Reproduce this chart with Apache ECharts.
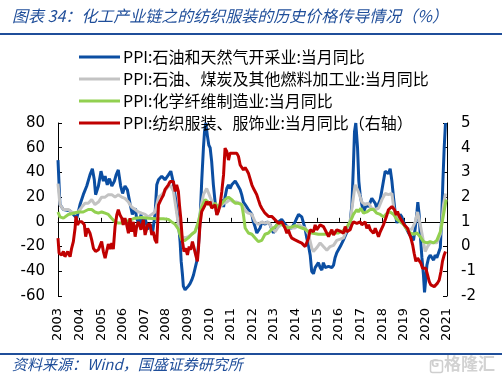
<!DOCTYPE html>
<html>
<head>
<meta charset="utf-8">
<script src="https://cdn.jsdelivr.net/npm/echarts@6/dist/echarts.min.js"></script>
<style>
html,body{margin:0;padding:0;background:#fff;}
#chart{width:502px;height:383px;}
</style>
</head>
<body>
<div id="chart"></div>
<script>
// Series names (legend)
const seriesNames = [
  'PPI:石油和天然气开采业:当月同比',
  'PPI:石油、煤炭及其他燃料加工业:当月同比',
  'PPI:化学纤维制造业:当月同比',
  'PPI:纺织服装、服饰业:当月同比（右轴）'
];
// x-axis year ticks
const yearTicks = [2003,2004,2005,2006,2007,2008,2009,2010,2011,2012,2013,2014,2015,2016,2017,2018,2019,2020,2021];
// left axis ticks: -60..80 step 20 ; right axis ticks: -2..5 step 1
const leftTicks = [-60,-40,-20,0,20,40,60,80];
const rightTicks = [-2,-1,0,1,2,3,4,5];

// [decimal year, value]
const oilGasExtraction = [
[2003.00,50],[2003.09,14],[2003.25,10],[2003.55,9],[2003.71,6],[2003.87,3],[2004.02,14],[2004.17,22],[2004.33,29],[2004.48,38],[2004.59,43],[2004.68,34],[2004.74,22],[2004.87,29],[2004.99,41],[2005.10,33],[2005.18,37],[2005.28,30],[2005.38,35],[2005.49,29],[2005.61,33],[2005.69,38],[2005.79,42],[2005.90,29],[2005.99,23],[2006.10,29],[2006.21,26],[2006.33,15],[2006.44,6],[2006.57,11],[2006.64,3],[2006.75,-2],[2006.84,6],[2006.92,-5],[2007.03,3],[2007.15,-6],[2007.26,-2],[2007.38,-8],[2007.49,6],[2007.57,30],[2007.65,34],[2007.72,35],[2007.80,37],[2007.88,37],[2007.95,34],[2008.03,35],[2008.11,38],[2008.22,41],[2008.31,34],[2008.37,27],[2008.46,16],[2008.57,0],[2008.65,-16],[2008.70,-32],[2008.76,-43],[2008.80,-52],[2008.88,-55],[2008.96,-54],[2009.03,-52],[2009.11,-50],[2009.19,-47],[2009.27,-43],[2009.34,-44],[2009.42,-32],[2009.50,-19],[2009.57,0],[2009.65,33],[2009.73,60],[2009.78,73],[2009.84,80],[2009.91,70],[2009.98,62],[2010.04,60],[2010.11,49],[2010.19,30],[2010.27,16],[2010.35,6],[2010.42,7],[2010.50,14],[2010.58,18],[2010.66,12],[2010.73,20],[2010.81,27],[2010.89,30],[2010.96,27],[2011.04,30],[2011.12,29],[2011.20,33],[2011.27,31],[2011.35,30],[2011.43,26],[2011.50,22],[2011.58,16],[2011.66,14],[2011.81,10],[2011.97,6],[2012.04,0],[2012.12,-4],[2012.20,-9],[2012.27,-10],[2012.35,-5],[2012.43,0],[2012.58,-2],[2012.66,0],[2012.81,-2],[2012.89,-6],[2012.97,-9],[2013.05,-5],[2013.20,0],[2013.35,2],[2013.51,-2],[2013.66,-5],[2013.74,-6],[2013.82,-5],[2013.97,0],[2014.05,3],[2014.13,6],[2014.20,7],[2014.28,4],[2014.36,-1],[2014.44,-6],[2014.51,-13],[2014.59,-19],[2014.67,-27],[2014.74,-40],[2014.82,-42],[2014.90,-37],[2014.97,-36],[2015.05,-33],[2015.13,-37],[2015.21,-39],[2015.28,-33],[2015.36,-37],[2015.44,-38],[2015.52,-36],[2015.59,-36],[2015.67,-37],[2015.75,-35],[2015.82,-29],[2015.90,-25],[2016.06,-20],[2016.20,-15],[2016.35,-9],[2016.45,-5],[2016.52,0],[2016.60,14],[2016.67,46],[2016.72,73],[2016.78,80],[2016.86,60],[2016.92,33],[2016.98,22],[2017.06,14],[2017.14,8],[2017.21,11],[2017.29,15],[2017.37,12],[2017.45,16],[2017.52,19],[2017.60,20],[2017.68,15],[2017.75,11],[2017.83,12],[2017.91,18],[2017.99,26],[2018.06,33],[2018.14,41],[2018.22,42],[2018.29,39],[2018.37,43],[2018.45,33],[2018.53,19],[2018.60,8],[2018.68,-1],[2018.76,3],[2018.83,6],[2018.91,4],[2018.99,0],[2019.07,-4],[2019.14,-6],[2019.22,-9],[2019.30,-10],[2019.37,-13],[2019.45,-15],[2019.53,-5],[2019.61,8],[2019.65,16],[2019.71,6],[2019.76,-10],[2019.84,-29],[2019.91,-43],[2019.96,-57],[2020.02,-46],[2020.07,-35],[2020.15,-29],[2020.22,-27],[2020.30,-29],[2020.38,-31],[2020.45,-27],[2020.53,-29],[2020.61,-28],[2020.69,-21],[2020.76,6],[2020.81,33],[2020.87,60],[2020.93,80]
];
const petroleumFuel = [
[2003.00,31],[2003.03,25],[2003.09,14],[2003.25,10],[2003.48,10],[2003.63,8],[2003.79,7],[2003.94,8],[2004.10,12],[2004.25,15],[2004.40,15],[2004.56,18],[2004.71,14],[2004.87,16],[2005.02,20],[2005.18,20],[2005.33,22],[2005.49,22],[2005.64,20],[2005.79,22],[2005.95,20],[2006.10,19],[2006.26,16],[2006.41,12],[2006.57,10],[2006.72,8],[2006.87,7],[2007.03,6],[2007.18,4],[2007.26,3],[2007.49,8],[2007.65,20],[2007.80,22],[2007.95,25],[2008.11,29],[2008.22,29],[2008.34,25],[2008.46,11],[2008.57,-2],[2008.65,-10],[2008.73,-12],[2008.88,-13],[2009.03,-12],[2009.19,-10],[2009.34,-8],[2009.50,0],[2009.57,6],[2009.65,15],[2009.73,22],[2009.88,27],[2009.96,26],[2010.04,20],[2010.19,14],[2010.35,10],[2010.50,12],[2010.66,15],[2010.81,16],[2010.96,18],[2011.12,16],[2011.27,16],[2011.43,15],[2011.58,12],[2011.66,9],[2011.81,7],[2011.97,6],[2012.12,0],[2012.27,-2],[2012.43,0],[2012.58,-1],[2012.74,0],[2012.89,-5],[2013.05,-8],[2013.20,-4],[2013.35,-2],[2013.51,-4],[2013.66,-4],[2013.82,-5],[2013.97,-5],[2014.13,-2],[2014.28,-4],[2014.44,-5],[2014.59,-10],[2014.74,-21],[2014.82,-24],[2014.97,-21],[2015.13,-17],[2015.28,-20],[2015.44,-23],[2015.59,-20],[2015.75,-19],[2015.90,-15],[2016.06,-14],[2016.21,-13],[2016.37,-6],[2016.52,0],[2016.64,16],[2016.75,30],[2016.86,26],[2016.95,22],[2017.06,16],[2017.21,14],[2017.37,15],[2017.52,11],[2017.68,10],[2017.83,11],[2017.99,18],[2018.14,23],[2018.29,22],[2018.45,23],[2018.53,12],[2018.60,6],[2018.76,3],[2018.91,0],[2019.07,-4],[2019.22,-6],[2019.37,-6],[2019.53,0],[2019.64,8],[2019.76,-2],[2019.88,-13],[2019.99,-24],[2020.10,-20],[2020.22,-17],[2020.38,-17],[2020.53,-17],[2020.69,-10],[2020.76,0],[2020.84,14],[2020.93,23]
];
const chemicalFiber = [
[2003.00,8],[2003.09,4],[2003.25,3],[2003.48,6],[2003.71,7],[2003.94,8],[2004.17,8],[2004.40,10],[2004.56,10],[2004.71,8],[2004.87,7],[2005.02,8],[2005.18,7],[2005.33,6],[2005.48,3],[2005.64,0],[2005.79,-1],[2005.95,-1],[2006.10,0],[2006.26,1],[2006.56,3],[2006.87,3.5],[2007.18,3],[2007.57,2.5],[2007.88,2.5],[2008.11,2],[2008.26,0],[2008.42,-2],[2008.57,-6],[2008.73,-15],[2008.88,-15],[2009.03,-13],[2009.19,-10],[2009.34,-8],[2009.50,0],[2009.65,12],[2009.81,18],[2009.96,16],[2010.11,12],[2010.27,15],[2010.42,12],[2010.58,15],[2010.73,18],[2010.89,20],[2011.04,18],[2011.20,15],[2011.35,15],[2011.50,14],[2011.58,6],[2011.66,-5],[2011.74,-6],[2011.81,-9],[2011.97,-10],[2012.12,-13],[2012.27,-16],[2012.43,-15],[2012.58,-10],[2012.74,-9],[2012.89,-6],[2013.05,-4],[2013.20,-1],[2013.35,-2],[2013.51,-4],[2013.66,-5],[2013.82,-4],[2013.97,-3],[2014.13,-4],[2014.28,-5],[2014.44,-6],[2014.59,-8],[2014.74,-9],[2015.05,-10],[2015.36,-10],[2015.67,-9],[2015.98,-9],[2016.20,-7],[2016.37,-4],[2016.52,0],[2016.67,6],[2016.83,10],[2016.90,8],[2017.01,11],[2017.14,7],[2017.29,8],[2017.45,10],[2017.60,10],[2017.75,7],[2017.91,6],[2018.06,4],[2018.22,7],[2018.37,8],[2018.53,6],[2018.68,2],[2018.83,0],[2018.99,-2],[2019.14,-6],[2019.30,-9],[2019.45,-10],[2019.61,-9],[2019.76,-12],[2019.91,-16],[2020.07,-17],[2020.22,-16],[2020.38,-17],[2020.53,-15],[2020.69,-8],[2020.76,-2],[2020.84,6],[2020.96,18]
];
const textileApparel = [
[2003.00,0.34],[2003.05,-0.27],[2003.17,-0.34],[2003.25,-0.2],[2003.32,-0.41],[2003.45,-0.2],[2003.56,-0.41],[2003.63,-0.07],[2003.71,0.2],[2003.79,0.74],[2003.83,1.22],[2003.91,0.88],[2003.97,1.0],[2004.10,1.0],[2004.22,0.88],[2004.28,0.4],[2004.37,0.74],[2004.48,0.54],[2004.56,0.27],[2004.64,-0.07],[2004.74,-0.2],[2004.87,-0.13],[2004.94,-0.2],[2005.02,0.2],[2005.10,-0.2],[2005.18,-0.47],[2005.25,-0.2],[2005.33,0.1],[2005.41,-0.1],[2005.49,0.14],[2005.56,-0.1],[2005.64,0.81],[2005.72,1.28],[2005.79,1.49],[2005.87,1.28],[2005.95,1.15],[2006.02,0.88],[2006.10,1.15],[2006.18,0.88],[2006.26,0.54],[2006.33,1.15],[2006.41,0.6],[2006.49,1.0],[2006.57,0.4],[2006.64,0.81],[2006.72,1.0],[2006.84,0.68],[2006.95,1.08],[2007.03,0.47],[2007.15,0.88],[2007.26,0.9],[2007.34,0.47],[2007.41,0.6],[2007.49,0.27],[2007.57,0.14],[2007.61,0.9],[2007.65,1.69],[2007.72,1.82],[2007.80,1.96],[2007.88,2.09],[2007.95,2.3],[2008.03,2.36],[2008.11,2.5],[2008.19,2.63],[2008.26,2.7],[2008.34,2.63],[2008.42,2.23],[2008.49,2.5],[2008.57,2.23],[2008.62,1.69],[2008.68,1.15],[2008.76,0.2],[2008.83,-0.2],[2008.91,-0.07],[2008.99,-0.34],[2009.07,0.0],[2009.14,-0.13],[2009.22,0.2],[2009.30,-0.07],[2009.37,-0.34],[2009.45,-0.6],[2009.50,-0.07],[2009.57,0.88],[2009.65,1.42],[2009.73,1.55],[2009.81,1.69],[2009.88,1.82],[2009.96,1.69],[2010.04,1.82],[2010.11,1.55],[2010.19,1.62],[2010.27,1.69],[2010.35,1.28],[2010.42,1.42],[2010.50,1.69],[2010.58,2.23],[2010.66,2.9],[2010.73,3.98],[2010.81,3.85],[2010.89,3.5],[2010.96,3.78],[2011.04,3.7],[2011.12,3.78],[2011.20,3.7],[2011.27,3.78],[2011.35,3.65],[2011.43,3.3],[2011.50,3.37],[2011.58,3.1],[2011.66,3.2],[2011.73,3.1],[2011.81,2.97],[2011.97,2.5],[2012.04,2.36],[2012.12,2.23],[2012.20,2.09],[2012.27,1.9],[2012.35,1.69],[2012.43,1.55],[2012.51,1.62],[2012.58,1.35],[2012.66,1.42],[2012.74,1.22],[2012.81,1.28],[2012.89,1.22],[2012.97,1.15],[2013.05,1.08],[2013.12,1.0],[2013.20,0.94],[2013.28,0.88],[2013.35,1.0],[2013.43,0.88],[2013.51,0.74],[2013.59,0.54],[2013.66,0.68],[2013.74,0.47],[2013.82,0.34],[2013.89,0.4],[2013.97,0.27],[2014.05,0.34],[2014.13,0.2],[2014.20,0.14],[2014.28,0.14],[2014.36,0.07],[2014.44,0.0],[2014.51,0.07],[2014.59,0.34],[2014.67,0.68],[2014.74,0.74],[2014.82,0.6],[2014.90,0.88],[2014.97,0.68],[2015.05,0.74],[2015.13,0.88],[2015.21,0.94],[2015.28,0.81],[2015.36,0.68],[2015.44,0.54],[2015.52,0.4],[2015.59,0.54],[2015.67,0.68],[2015.75,0.47],[2015.82,0.54],[2015.90,0.68],[2015.98,0.6],[2016.06,0.62],[2016.13,0.68],[2016.21,0.54],[2016.29,0.81],[2016.37,0.6],[2016.44,0.54],[2016.52,0.68],[2016.60,0.88],[2016.67,1.0],[2016.75,1.0],[2016.83,0.94],[2016.90,1.0],[2016.98,1.0],[2017.06,0.88],[2017.14,0.81],[2017.21,1.0],[2017.29,0.74],[2017.37,0.88],[2017.45,0.68],[2017.52,0.74],[2017.60,0.54],[2017.68,0.74],[2017.75,0.68],[2017.83,0.4],[2017.91,0.6],[2017.99,0.54],[2018.06,0.88],[2018.14,1.08],[2018.22,1.28],[2018.29,1.49],[2018.37,1.42],[2018.45,1.62],[2018.53,1.69],[2018.57,1.49],[2018.65,1.28],[2018.71,1.42],[2018.79,1.22],[2018.86,1.28],[2018.94,1.0],[2019.02,0.88],[2019.10,0.81],[2019.17,0.74],[2019.25,0.54],[2019.33,0.34],[2019.41,0.07],[2019.48,-0.27],[2019.56,-0.6],[2019.64,-0.47],[2019.71,-0.54],[2019.79,-0.67],[2019.87,-0.88],[2019.95,-0.94],[2020.02,-0.88],[2020.10,-1.15],[2020.18,-1.42],[2020.25,-1.55],[2020.33,-1.62],[2020.41,-1.62],[2020.49,-1.55],[2020.56,-1.48],[2020.64,-1.35],[2020.72,-1.01],[2020.79,-0.6],[2020.87,-0.34],[2020.93,-0.2]
];

const colors = ['#0B4EA2', '#C3C3C3', '#92D050', '#C00000'];
const blueText = '#1F4E9A';
const labelFont = 'DejaVu Sans';

const chart = echarts.init(document.getElementById('chart'), null, {renderer: 'canvas'});

function lineSeries(name, data, color, yIndex) {
  return {
    name: name, type: 'line', data: data, yAxisIndex: yIndex, xAxisIndex: 0,
    showSymbol: false, symbol: 'none', smooth: false,
    lineStyle: {color: color, width: 3}, itemStyle: {color: color},
    clip: true, animation: false
  };
}

const xCommon = {
  type: 'value', min: yearTicks[0], max: yearTicks[yearTicks.length - 1], interval: 1,
  splitLine: {show: false}
};

chart.setOption({
  animation: false,
  backgroundColor: '#fff',
  grid: {left: 58, right: 55, top: 123, bottom: 87, containLabel: false},
  legend: {
    orient: 'vertical', left: 74, top: 44,
    icon: 'rect', itemWidth: 41, itemHeight: 3, itemGap: 6,
    data: seriesNames,
    textStyle: {fontSize: 16, color: '#000', fontFamily: '"Noto Sans CJK SC", sans-serif', padding: [0,0,0,-2]}
  },
  xAxis: [
    Object.assign({}, xCommon, {
      position: 'bottom',
      axisLine: {show: false, onZero: false},
      axisTick: {show: false},
      axisLabel: {rotate: 90, margin: 12, fontSize: 13, color: '#000', fontFamily: labelFont,
        formatter: v => String(Math.round(v))}
    }),
    Object.assign({}, xCommon, {
      position: 'bottom',
      axisLine: {show: true, onZero: true, onZeroAxisIndex: 0, lineStyle: {color: '#000', width: 1}},
      axisTick: {show: true, inside: true, length: 4, lineStyle: {color: '#000'}},
      axisLabel: {show: false}
    })
  ],
  yAxis: [
    {
      type: 'value', min: leftTicks[0], max: leftTicks[leftTicks.length - 1], interval: 20,
      position: 'left',
      axisLine: {show: true, lineStyle: {color: '#000', width: 1}},
      axisTick: {show: true, inside: true, length: 4, lineStyle: {color: '#000'}},
      splitLine: {show: false},
      axisLabel: {fontSize: 15, color: '#000', margin: 13, fontFamily: labelFont}
    },
    {
      type: 'value', min: rightTicks[0], max: rightTicks[rightTicks.length - 1], interval: 1,
      position: 'right',
      axisLine: {show: true, lineStyle: {color: '#000', width: 1}},
      axisTick: {show: true, inside: true, length: 4, lineStyle: {color: '#000'}},
      splitLine: {show: false},
      axisLabel: {fontSize: 15, color: '#000', margin: 14, fontFamily: labelFont}
    }
  ],
  series: [
    lineSeries(seriesNames[0], oilGasExtraction, colors[0], 0),
    lineSeries(seriesNames[1], petroleumFuel, colors[1], 0),
    lineSeries(seriesNames[2], chemicalFiber, colors[2], 0),
    lineSeries(seriesNames[3], textileApparel, colors[3], 1)
  ],
  graphic: [
    {type: 'text', left: 12, top: 8, style: {text: '图表 34：化工产业链之的纺织服装的历史价格传导情况（%）',
      fill: blueText, font: 'italic 16px "Noto Sans CJK SC", sans-serif'}},
    {type: 'rect', left: 0, top: 33, shape: {width: 502, height: 2}, style: {fill: blueText}},
    {type: 'rect', left: 0, top: 353, shape: {width: 502, height: 2}, style: {fill: blueText}},
    {type: 'text', left: 12, top: 357, style: {text: '资料来源：Wind，国盛证券研究所',
      fill: blueText, font: 'italic 15px "Noto Sans CJK SC", sans-serif'}},
    {type: 'rect', left: 428, top: 358, shape: {width: 12, height: 12, r: 2},
      style: {fill: 'none', stroke: '#cfcfcf', lineWidth: 1.5}},
    {type: 'text', left: 431, top: 359, style: {text: 'G', fill: '#cfcfcf', font: 'bold 10px "DejaVu Sans"'}},
    {type: 'text', left: 444, top: 355, style: {text: '格隆汇', fill: '#d2d2d2', font: 'bold 17px "Noto Sans CJK SC", sans-serif'}}
  ]
});
</script>
</body>
</html>
